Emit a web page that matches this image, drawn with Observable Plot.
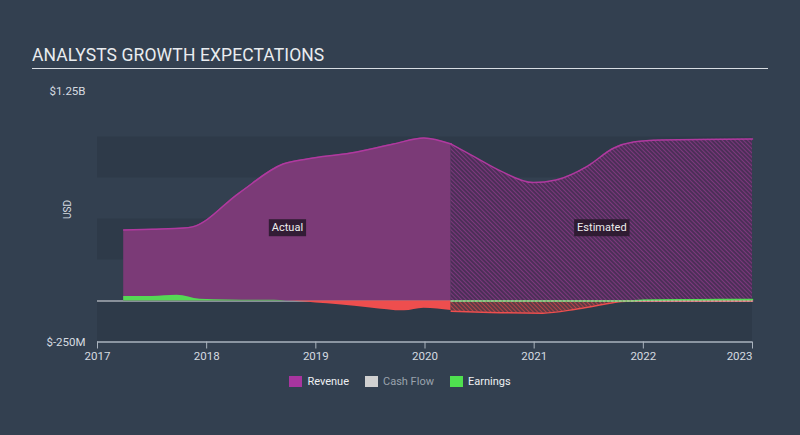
<!DOCTYPE html>
<html>
<head>
<meta charset="utf-8">
<script src="https://cdn.jsdelivr.net/npm/d3@7"></script>
<script src="https://cdn.jsdelivr.net/npm/@observablehq/plot@0.6"></script>
<style>
  html, body { margin: 0; padding: 0; background: #334050; }
  #wrap { position: relative; width: 800px; height: 435px; background: #334050; font-family: Roboto, "Noto Sans", sans-serif; overflow: hidden; }
  #title { position: absolute; left: 32px; top: 45px; color: #e9ecef; font-size: 17.5px; letter-spacing: 0.1px; }
  #rule { position: absolute; left: 32px; top: 68px; width: 736px; height: 1px; background: #d8dde2; }
  #chart { position: absolute; left: 0; top: 0; }
  #legend { position: absolute; left: 0; top: 375px; width: 800px; display: flex; justify-content: center; gap: 0; font-size: 11px; }
  .item { display: flex; align-items: center; margin: 0 8px; color: #eef0f2; }
  .sw { width: 13px; height: 11px; margin-right: 5px; }
</style>
</head>
<body>
<div id="wrap">
  <div id="title">ANALYSTS GROWTH EXPECTATIONS</div>
  <div id="rule"></div>
  <div id="chart"></div>
  <div id="legend"></div>
</div>
<script>
// ---------- data (years as decimal, values in USD) ----------
const revenueActualYears  = [2017.24, 2017.5, 2017.79, 2017.87, 2018.3, 2018.7, 2018.92, 2019.32, 2019.71, 2019.99, 2020.24];
const revenueActualValues = [433e6, 438e6, 445e6, 452e6, 660e6, 835e6, 866e6, 902e6, 957e6, 994e6, 957e6];

const revenueEstYears  = [2020.24, 2020.45, 2020.7, 2020.99, 2021.2, 2021.49, 2021.73, 2021.91, 2022.16, 2023.0];
const revenueEstValues = [957e6, 880e6, 790e6, 722e6, 738e6, 823e6, 933e6, 969e6, 982e6, 988e6];

const earningsActualYears  = [2017.24, 2017.5, 2017.73, 2017.94, 2018.2, 2018.62, 2018.73, 2019.0, 2019.21, 2019.5, 2019.81, 2019.99, 2020.24];
const earningsActualValues = [27e6, 28e6, 35e6, 11e6, 6e6, 4e6, 0, -12e6, -23e6, -42e6, -60e6, -44e6, -58e6];

const earningsEstYears  = [2020.24, 2020.6, 2021.08, 2021.38, 2021.6, 2021.8, 2021.9, 2022.0, 2022.5, 2023.0];
const earningsEstValues = [-62e6, -70e6, -74e6, -50e6, -25e6, -3e6, 0, 5e6, 8e6, 9e6];

const cashFlowEstYears  = [2020.24, 2023.0];
const cashFlowEstValues = [0, 0];

const bandLows = [-250e6, 250e6, 750e6];
const bandSize = 250e6;

const xTicks = [2017, 2018, 2019, 2020, 2021, 2022];
const xLastTick = [2023];
const yTickValues = [1.25e9, -250e6];
const yTickLabels = ["$1.25B", "$-250M"];

const labelYears = [2018.74, 2021.62];
const labelValues = [447e6, 447e6];
const labelTexts = ["Actual", "Estimated"];

const legendNames = ["Revenue", "Cash Flow", "Earnings"];
const legendColors = ["#a8359f", "#d0d0d0", "#4fe04f"];

// ---------- build tables ----------
const zip = (xs, ys) => xs.map((x, i) => ({x, y: ys[i]}));
const revA = zip(revenueActualYears, revenueActualValues);
const revE = zip(revenueEstYears, revenueEstValues);
const earnA = zip(earningsActualYears, earningsActualValues);
const earnE = zip(earningsEstYears, earningsEstValues);
const cfE = zip(cashFlowEstYears, cashFlowEstValues);
const bands = bandLows.map(v => ({y1: v, y2: v + bandSize}));
const labels = labelYears.map((x, i) => ({x, y: labelValues[i], t: labelTexts[i]}));

const domainX = [2017, 2023];
const curve = "monotone-x";
const pos = d => Math.max(0, d.y);
const neg = d => Math.min(0, d.y);

const chart = Plot.plot({
  width: 800,
  height: 435,
  marginLeft: 97,
  marginRight: 48,
  marginTop: 95.5,
  marginBottom: 93.5,
  style: {background: "transparent", color: "#d6dbe0", fontFamily: "Roboto, 'Noto Sans', sans-serif", fontSize: "11px", overflow: "visible"},
  x: {domain: domainX, label: null},
  y: {domain: [-250e6, 1.25e9], label: null},
  marks: [
    Plot.rect(bands, {x1: domainX[0], x2: domainX[1], y1: "y1", y2: "y2", fill: "#2e3a49"}),
    Plot.ruleY([0], {x1: domainX[0], x2: domainX[1], stroke: "#a7adb4", strokeWidth: 1.5}),
    // revenue
    Plot.areaY(revA, {x: "x", y: "y", fill: "#7b3a77", curve}),
    Plot.areaY(revE, {x: "x", y: "y", fill: "url(#hatchPurple)", curve}),
    Plot.lineY(revA, {x: "x", y: "y", stroke: "#b0399f", strokeWidth: 1.5, curve}),
    Plot.lineY(revE, {x: "x", y: "y", stroke: "#b0399f", strokeWidth: 1.5, curve}),
    // earnings
    Plot.areaY(earnA, {x: "x", y: pos, fill: "#55d955", curve}),
    Plot.areaY(earnA, {x: "x", y: neg, fill: "#ee4e4e", curve}),
    Plot.areaY(earnE, {x: "x", y: neg, fill: "url(#hatchRed)", curve}),
    Plot.lineY(earnE, {x: "x", y: neg, stroke: "#ee4e4e", strokeWidth: 1.5, curve}),
    Plot.areaY(earnE, {x: "x", y: pos, fill: "#55d955", curve}),
    Plot.lineY(earnE, {x: "x", y: pos, stroke: "#55d955", strokeWidth: 1.5, curve}),
    // cash flow (estimated, dashed)
    Plot.lineY(cfE, {x: "x", y: "y", stroke: "#d8c8d0", strokeOpacity: 0.6, strokeWidth: 1.5, strokeDasharray: "2,2"}),
    // axis line
    Plot.ruleY([-250e6], {x1: domainX[0], x2: domainX[1], stroke: "#aab3be", strokeWidth: 1.5}),
    Plot.axisX(xTicks, {anchor: "bottom", label: null, tickSize: 7, tickPadding: 3, tickFormat: d => String(d), stroke: "#aab3be", fill: "#d6dbe0", fontSize: 11.5}),
    Plot.axisX(xLastTick, {anchor: "bottom", label: null, tickSize: 7, tickPadding: 3, tickFormat: d => String(d), stroke: "#aab3be", fill: "#d6dbe0", fontSize: 11.5, textAnchor: "end"}),
    Plot.axisY([yTickValues[0]], {anchor: "left", label: null, tickSize: 0, tickPadding: 12, dy: -5, tickFormat: () => yTickLabels[0], fill: "#d6dbe0", fontSize: 11.5}),
    Plot.axisY([yTickValues[1]], {anchor: "left", label: null, tickSize: 0, tickPadding: 12, tickFormat: () => yTickLabels[1], fill: "#d6dbe0", fontSize: 11.5}),
    Plot.text(["USD"], {frameAnchor: "left", dx: -30, rotate: -90, fill: "#d6dbe0", fontSize: 10}),
    Plot.text(labels, {x: "x", y: "y", text: "t", fill: "#eeeeee", fontSize: 11, ariaDescription: "phase-labels"})
  ]
});

// hatch patterns
const defs = document.createElementNS("http://www.w3.org/2000/svg", "defs");
defs.innerHTML = `
  <pattern id="hatchPurple" patternUnits="userSpaceOnUse" width="3" height="3" patternTransform="rotate(-45)">
    <rect width="3" height="3" fill="#4c2f58"></rect>
    <line x1="0" y1="0" x2="0" y2="3" stroke="#8a3a86" stroke-width="1.6"></line>
  </pattern>
  <pattern id="hatchRed" patternUnits="userSpaceOnUse" width="3" height="3" patternTransform="rotate(-45)">
    <rect width="3" height="3" fill="#5d3a46"></rect>
    <line x1="0" y1="0" x2="0" y2="3" stroke="#c94848" stroke-width="1.6"></line>
  </pattern>`;
chart.insertBefore(defs, chart.firstChild);

document.getElementById("chart").appendChild(chart);

// label boxes
chart.querySelectorAll('g[aria-description="phase-labels"] text').forEach(t => {
  const b = t.getBBox();
  const r = document.createElementNS("http://www.w3.org/2000/svg", "rect");
  r.setAttribute("x", b.x - 3);
  r.setAttribute("y", b.y - 2);
  r.setAttribute("width", b.width + 6);
  r.setAttribute("height", b.height + 4);
  r.setAttribute("fill", "#2a1a2d");
  r.setAttribute("fill-opacity", "0.9");
  if (t.getAttribute("transform")) r.setAttribute("transform", t.getAttribute("transform"));
  t.parentNode.insertBefore(r, t);
});

// legend
const lg = document.getElementById("legend");
legendNames.forEach((n, i) => {
  const it = document.createElement("div");
  it.className = "item";
  if (n === "Cash Flow") it.style.color = "#9aa3ad";
  it.innerHTML = `<span class="sw" style="background:${legendColors[i]}"></span><span>${n}</span>`;
  lg.appendChild(it);
});
</script>
</body>
</html>
